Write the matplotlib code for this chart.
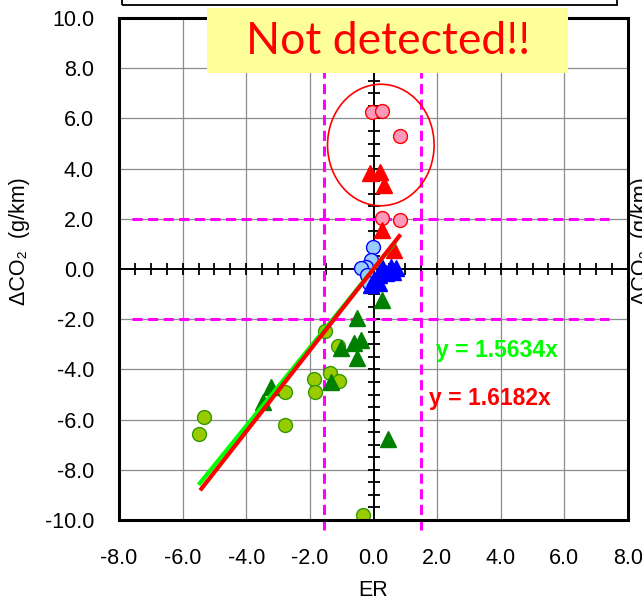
import numpy as np
import matplotlib
matplotlib.use("Agg")
import matplotlib.pyplot as plt
from matplotlib.patches import Ellipse, Rectangle

plt.rcParams['font.family'] = ['Liberation Sans', 'DejaVu Sans']

# --- data ---
pink_x = [-0.06, 0.28, 0.82, 0.28, 0.82]
pink_y = [6.25, 6.3, 5.3, 2.03, 1.97]
red_tri_x = [-0.1, 0.2, 0.32, 0.28, 0.66]
red_tri_y = [3.82, 3.86, 3.35, 1.55, 0.76]

blue_x = [-0.03, -0.08, -0.24, -0.4, -0.2, -0.15]
blue_y = [0.89, 0.36, 0.09, 0.04, -0.24, -0.56]
blue_tri_x = [0.28, 0.54, 0.7, 0.39, 0.17, 0.0, -0.08, 0.17, 0.6]
blue_tri_y = [0.09, 0.09, 0.04, -0.16, -0.24, -0.44, -0.64, -0.56, -0.1]

green_x = [-1.53, -1.12, -1.88, -1.36, -1.08, -1.85, -2.77, -5.34, -5.49, -2.79, -0.34]
green_y = [-2.47, -3.07, -4.38, -4.14, -4.46, -4.9, -4.9, -5.88, -6.57, -6.22, -9.8]
green_tri_x = [0.26, -0.53, -1.03, -0.62, -0.4, -0.53, -1.34, -3.23, -3.48, 0.45]
green_tri_y = [-1.24, -1.95, -3.15, -2.95, -2.83, -3.55, -4.5, -4.7, -5.3, -6.77]

slope_green = 1.5634
slope_red = 1.6182
green_line_x = np.array([-5.5, 0.7])
red_line_x = np.array([-5.45, 0.85])

er_limits = [-1.55, 1.5]
co2_limits = [-2.0, 2.0]

ticks_x = np.arange(-8, 8.1, 2)
ticks_y = np.arange(-10, 10.1, 2)

W, H = 642, 602
fig = plt.figure(figsize=(W / 100, H / 100), dpi=100)
ax = fig.add_axes([119 / W, 1 - 520 / H, (628 - 119) / W, (520 - 18) / H])
ax.set_xlim(-8, 8)
ax.set_ylim(-10, 10)

# grid
for gx in ticks_x:
    if gx != 0:
        ax.axvline(gx, color='#8c8c8c', lw=0.9, zorder=0)
for gy in ticks_y:
    if gy != 0:
        ax.axhline(gy, color='#8c8c8c', lw=0.9, zorder=0)

# center axes with crossing ticks
ax.axhline(0, color='black', lw=1.4, zorder=1)
ax.axvline(0, color='black', lw=1.4, zorder=1)
mx = np.arange(-8, 8.01, 0.5)
my = np.arange(-10, 10.01, 0.5)
ax.plot(mx, np.zeros_like(mx), ls='none', marker='|', ms=8, mew=1.3, color='black', zorder=1)
ax.plot(np.zeros_like(my), my, ls='none', marker='_', ms=8.5, mew=1.3, color='black', zorder=1)

# magenta thresholds
for v in er_limits:
    ax.plot([v, v], [-10.4, 9.8], color='#FF00FF', lw=2.2, dashes=(3.3, 1.8), clip_on=False, zorder=2)
for v in co2_limits:
    ax.plot([-7.6, 7.4], [v, v], color='#FF00FF', lw=2.2, dashes=(3.3, 1.8), zorder=2)

# points
ax.plot(pink_x, pink_y, 'o', ms=10, mfc='#FF99BB', mec='#FF0000', mew=1.0, zorder=3)
ax.plot(red_tri_x, red_tri_y, '^', ms=11, color='#FF0000', zorder=4)
ax.plot(blue_x, blue_y, 'o', ms=10, mfc='#99CCFF', mec='#0000FF', mew=1.0, zorder=3)
ax.plot(blue_tri_x, blue_tri_y, '^', ms=11, color='#0000FF', zorder=4)
ax.plot(green_x, green_y, 'o', ms=10, mfc='#99CC00', mec='#339900', mew=1.0, zorder=3)
ax.plot(green_tri_x, green_tri_y, '^', ms=11, color='#008000', zorder=4)

# regression lines
ax.plot(green_line_x, slope_green * green_line_x, color='#00FF00', lw=3.0, solid_capstyle='butt', zorder=5)
ax.plot(red_line_x, slope_red * red_line_x, color='#FF0000', lw=3.0, solid_capstyle='butt', zorder=6)
ax.text(1.96, -3.25, 'y = %.4fx' % slope_green, color='#00FF00', fontsize=16.5, fontweight='bold',
        va='center', ha='left', zorder=7)
ax.text(1.74, -5.14, 'y = %.4fx' % slope_red, color='#FF0000', fontsize=16.5, fontweight='bold',
        va='center', ha='left', zorder=7)

# red ellipse around the undetected points
ax.add_patch(Ellipse((0.23, 4.94), 3.35, 4.84, fill=False, ec='#FF0000', lw=1.2, zorder=5))

# ticks and spines
ax.set_xticks(ticks_x)
ax.set_yticks(ticks_y)
ax.set_xticklabels(['%.1f' % v for v in ticks_x])
ax.set_yticklabels(['%.1f' % v for v in ticks_y])
ax.tick_params(length=0, labelsize=15.5, colors='black')
ax.tick_params(axis='x', pad=20)
ax.tick_params(axis='y', pad=18)
for sp in ax.spines.values():
    sp.set_linewidth(2.2)
    sp.set_zorder(8)

fig.text(373 / W, 1 - 590 / H, 'ER', ha='center', va='center', fontsize=15.5)
fig.text(20 / W, 1 - 241 / H, 'ΔCO₂  (g/km)', rotation=90, ha='center', va='center', fontsize=15.5)
# partial label of the neighbouring chart (cut off in the reference too)
fig.text(641 / W, 1 - 241 / H, 'ΔCO₂  (g/km)', rotation=90, ha='center', va='center', fontsize=15.5)

# cut-off box at the top
fig.add_artist(Rectangle((122 / W, 1 - 5 / H), (617 - 122) / W, 0.05, transform=fig.transFigure,
                         fill=False, ec='black', lw=1.3))

# yellow note
fig.add_artist(Rectangle((207 / W, 1 - 73 / H), (568 - 207) / W, (73 - 8) / H, transform=fig.transFigure,
                         fc='#FFFF99', ec='none', zorder=10))
fig.text(388 / W, 1 - 41 / H, 'Not detected!!', ha='center', va='center', color='#FF0000',
         fontsize=32, family=['Lato', 'DejaVu Sans'], zorder=11)

fig.savefig('out.png', dpi=100)
